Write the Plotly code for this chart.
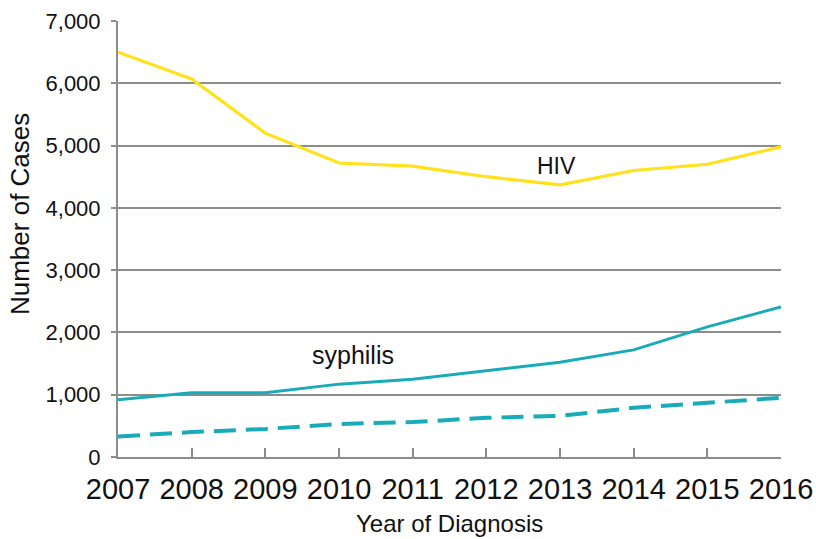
import plotly.graph_objects as go

years = [2007, 2008, 2009, 2010, 2011, 2012, 2013, 2014, 2015, 2016]
hiv = [6500, 6070, 5200, 4720, 4670, 4500, 4370, 4600, 4700, 4980]
syphilis = [920, 1030, 1030, 1170, 1250, 1380, 1520, 1720, 2090, 2410]
syphilis_dashed = [330, 400, 450, 530, 560, 630, 660, 790, 870, 950]

YELLOW = "#FFE21A"
TEAL = "#1AABB9"
GRID = "#8C8C8C"
FONT = "Liberation Sans, Arial, sans-serif"
TEXT = "#111111"

fig = go.Figure()
fig.add_trace(go.Scatter(x=years, y=hiv, mode="lines",
                         line=dict(color=YELLOW, width=3.2), showlegend=False))
fig.add_trace(go.Scatter(x=years, y=syphilis, mode="lines",
                         line=dict(color=TEAL, width=3), showlegend=False))
fig.add_trace(go.Scatter(x=years, y=syphilis_dashed, mode="lines",
                         line=dict(color=TEAL, width=4, dash="22px,10px"),
                         showlegend=False))

# series labels placed next to their lines
fig.add_annotation(x=2012.95, y=4680, text="HIV", showarrow=False,
                   font=dict(size=23, color=TEXT, family=FONT))
fig.add_annotation(x=2010.19, y=1640, text="syphilis", showarrow=False,
                   font=dict(size=25, color=TEXT, family=FONT))

# axis titles
fig.add_annotation(xref="paper", yref="paper", x=-0.148, y=0.557,
                   xanchor="center", yanchor="middle",
                   text="Number of Cases", textangle=-90, showarrow=False,
                   font=dict(size=26, color=TEXT, family=FONT))
fig.add_annotation(xref="paper", yref="paper", x=0.5, y=-0.153,
                   xanchor="center", yanchor="middle",
                   text="Year of Diagnosis", showarrow=False,
                   font=dict(size=24, color=TEXT, family=FONT))

fig.update_layout(
    width=816, height=539,
    margin=dict(l=118, r=35, t=21, b=82, autoexpand=False),
    paper_bgcolor="white", plot_bgcolor="white",
    font=dict(family=FONT, color=TEXT),
)
fig.update_xaxes(
    range=[2007, 2016], tickvals=years, ticktext=[str(y) for y in years],
    tickfont=dict(size=29), ticks="inside", ticklen=9, tickcolor=GRID,
    tickwidth=1.5, showline=True, linecolor=GRID, linewidth=2,
    showgrid=False, zeroline=False, automargin=False, ticklabelstandoff=5,
)
fig.update_yaxes(
    range=[0, 7000], tickvals=list(range(0, 7001, 1000)), tickformat=",d",
    tickfont=dict(size=22), ticks="outside", ticklen=5, tickcolor=GRID,
    tickwidth=1.5, showline=True, linecolor=GRID, linewidth=2,
    showgrid=True, gridcolor=GRID, gridwidth=1.5, zeroline=False,
    automargin=False, ticklabelstandoff=6,
)

fig.write_html("out.html")
